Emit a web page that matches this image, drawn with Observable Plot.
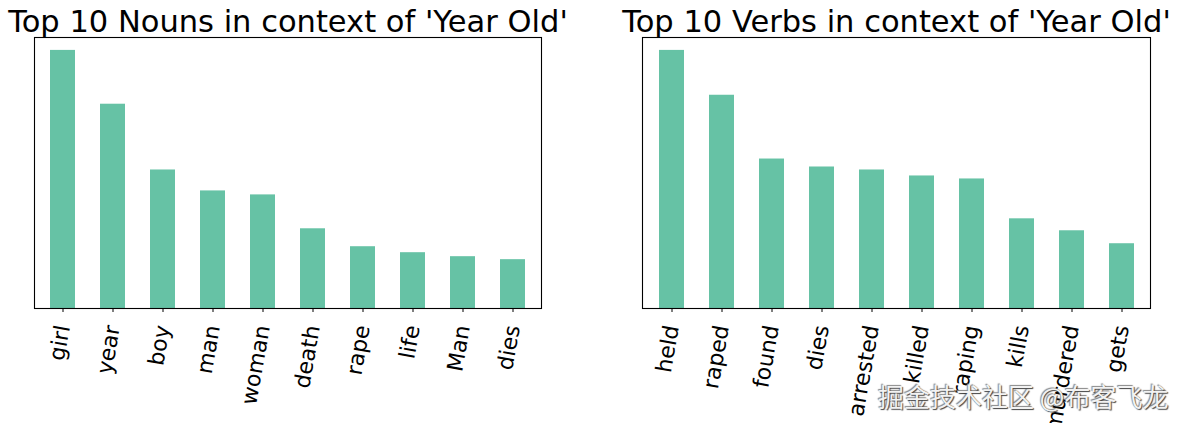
<!DOCTYPE html>
<html><head><meta charset="utf-8">
<script src="https://cdn.jsdelivr.net/npm/d3@7"></script>
<script src="https://cdn.jsdelivr.net/npm/@observablehq/plot@0.6"></script>
<style>
body{margin:0;background:#fff;}
#wrap{position:relative;width:1179px;height:423px;overflow:hidden;font-family:"DejaVu Sans";}
#wrap svg{position:absolute;top:0;}
#wm{position:absolute;left:878px;top:377px;font-family:"Noto Sans CJK SC";font-size:26px;color:#f2f2f2;text-shadow:1px 1px 1px #444,-1px -1px 1px #888;white-space:nowrap;}
</style></head><body><div id="wrap"></div>
<script>
const nounTitle = "Top 10 Nouns in context of 'Year Old'";
const nounCategories = ["girl","year","boy","man","woman","death","rape","life","Man","dies"];
const nounCounts = [259, 205, 139, 118, 114, 80, 62, 56, 52, 49];

const verbTitle = "Top 10 Verbs in context of 'Year Old'";
const verbCategories = ["held","raped","found","dies","arrested","killed","raping","kills","murdered","gets"];
const verbCounts = [259, 214, 150, 142, 139, 133, 130, 90, 78, 65];

const watermark = "掘金技术社区 @布客飞龙";

function chart(title, cats, vals, left, width, marginLeft, marginRight) {
  const data = cats.map((c, i) => ({c, v: vals[i]}));
  const p = Plot.plot({
    width, height: 423,
    marginLeft, marginRight, marginTop: 37, marginBottom: 115,
    x: {domain: cats, paddingInner: 0.5, paddingOuter: 0.25, label: null},
    y: {domain: [0, d3.max(vals) * 1.05], axis: null},
    style: {fontFamily: "DejaVu Sans", background: "transparent", overflow: "visible", color: "black"},
    marks: [
      Plot.barY(data, {x: "c", y: "v", fill: "#66c2a5"}),
      Plot.frame({stroke: "black", strokeWidth: 1.1}),
      Plot.axisX({tickRotate: -80, fontSize: 22, tickSize: 4, tickPadding: 13, label: null, fill: "black", stroke: "black"}),
      Plot.text([title], {frameAnchor: "top", dy: -6, lineAnchor: "bottom", fontSize: 30.5, fill: "black"})
    ]
  });
  p.style.left = left + "px";
  return p;
}

const wrap = document.getElementById("wrap");
wrap.appendChild(chart(nounTitle, nounCategories, nounCounts, 0, 590, 34, 49));
wrap.appendChild(chart(verbTitle, verbCategories, verbCounts, 590, 589, 52, 29));
const wm = document.createElement("div");
wm.id = "wm";
wm.textContent = watermark;
wrap.appendChild(wm);
</script>
</body></html>
